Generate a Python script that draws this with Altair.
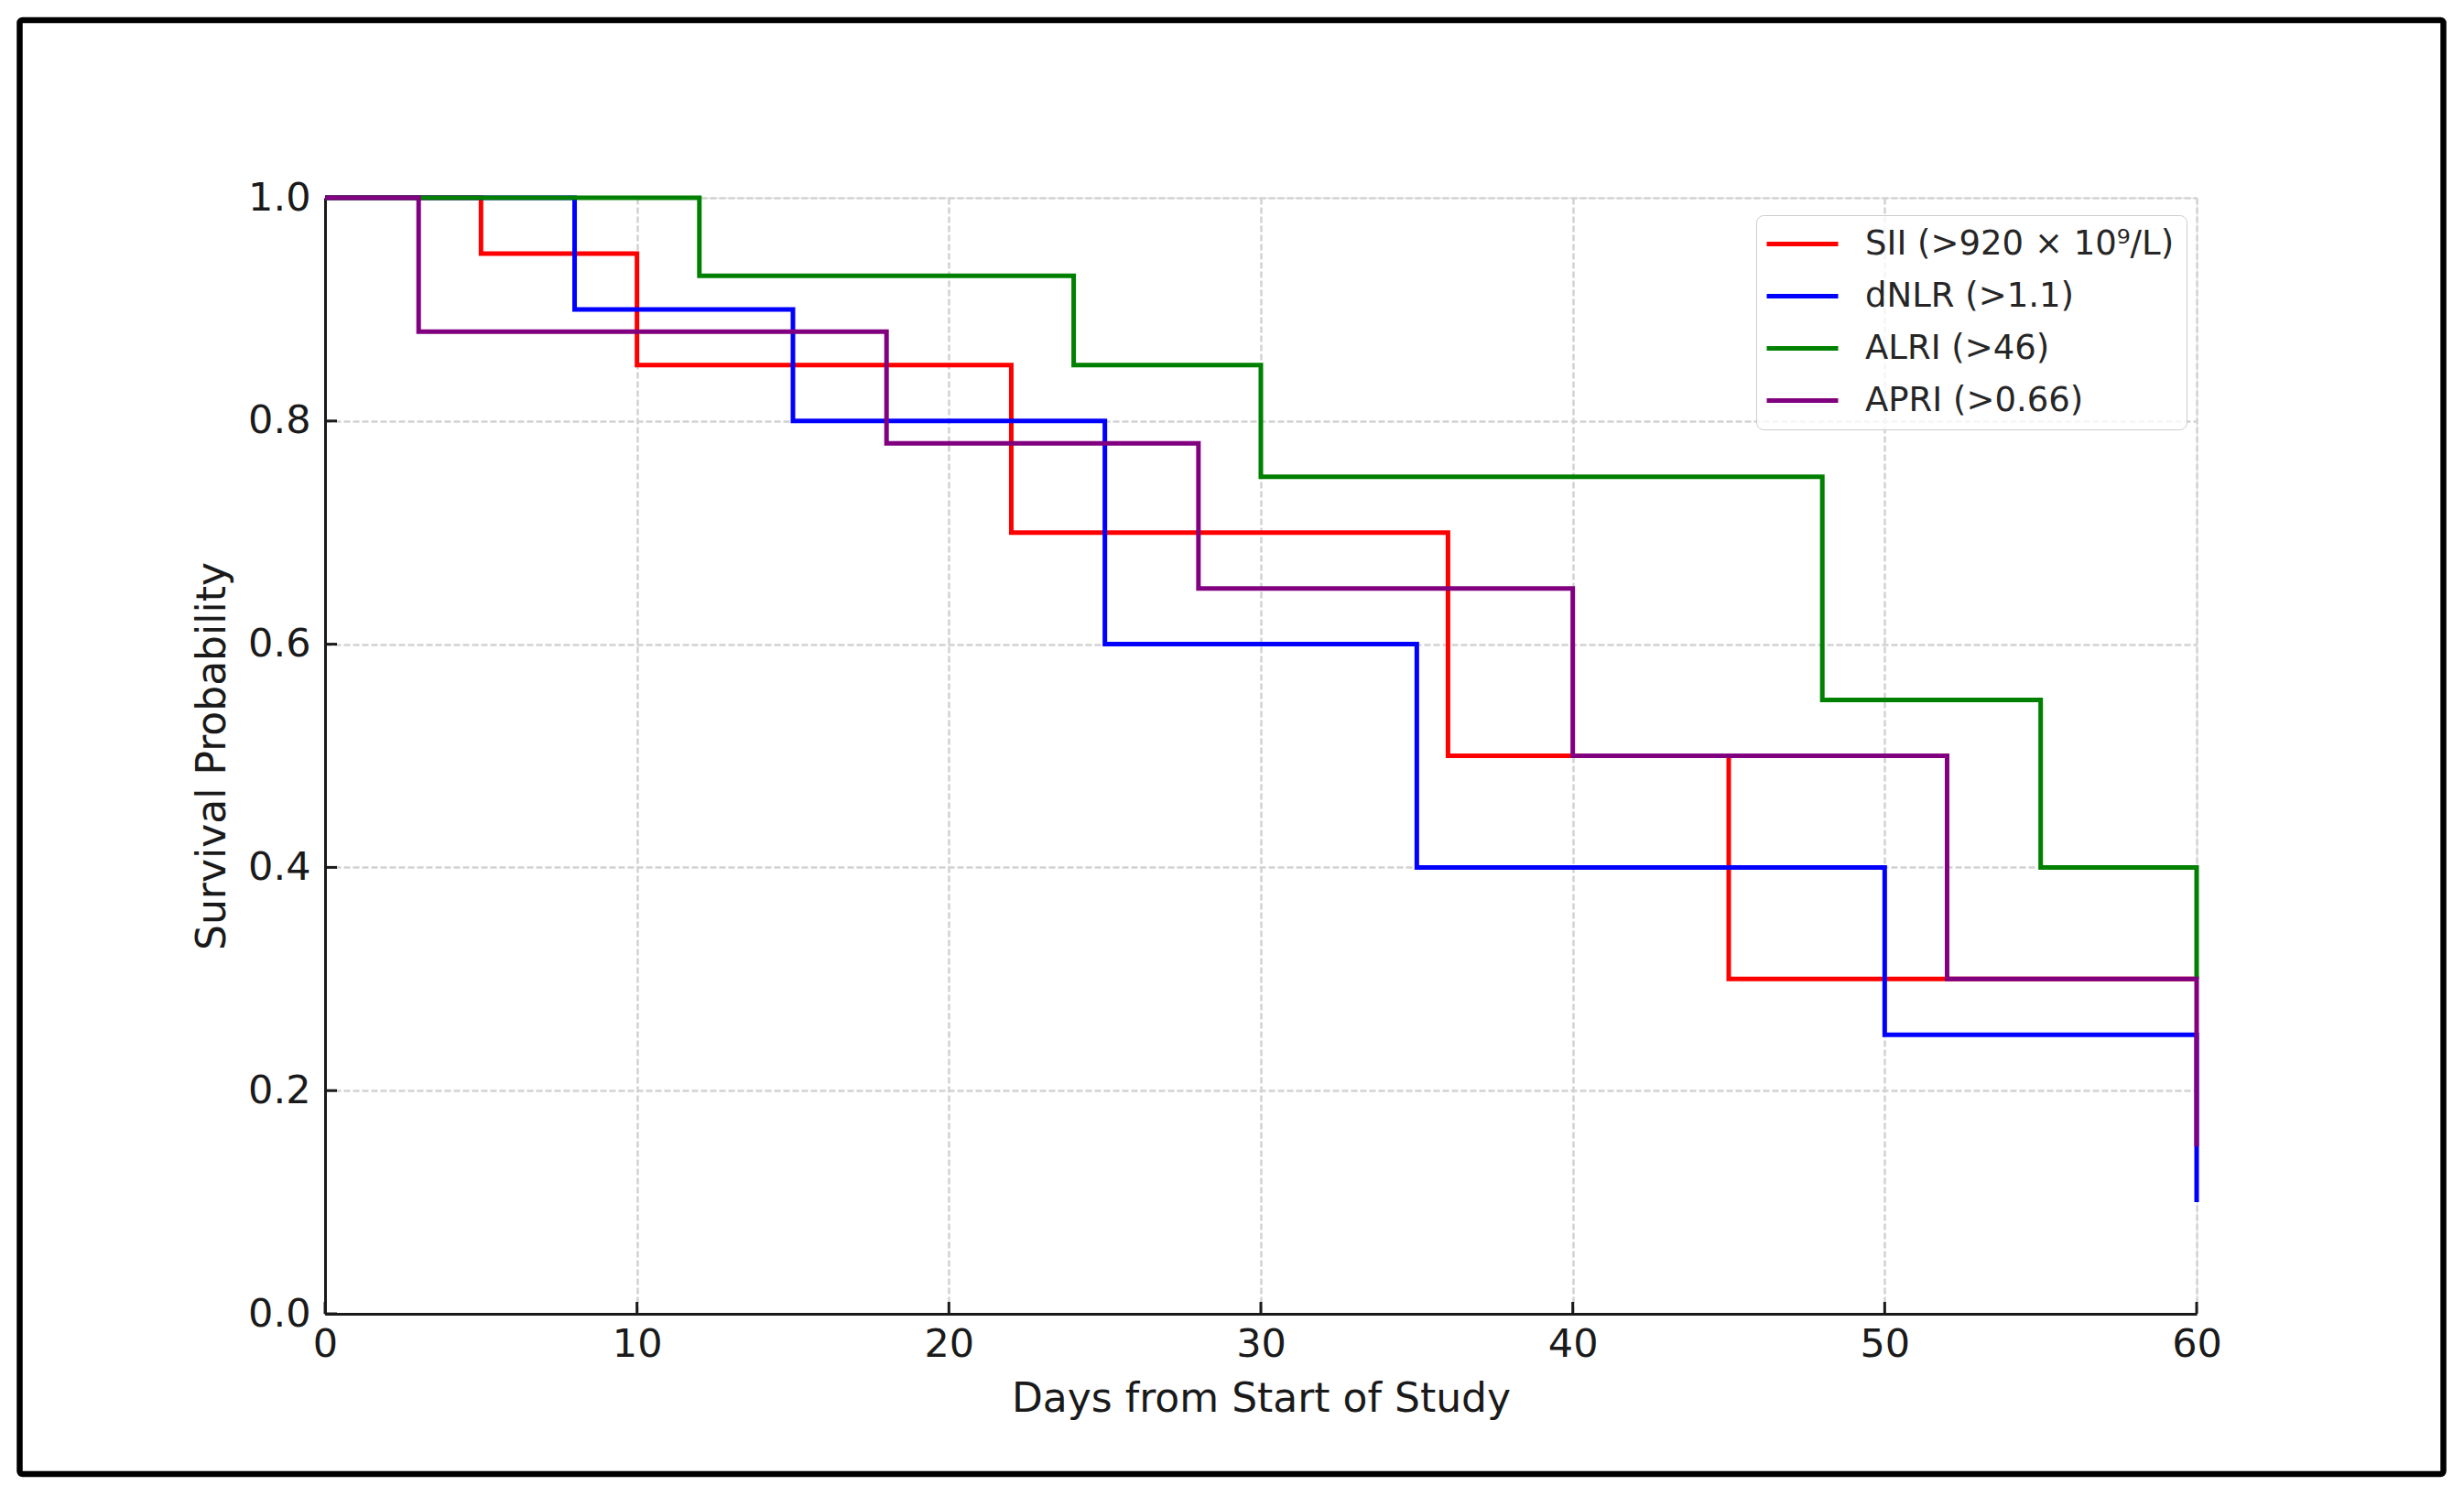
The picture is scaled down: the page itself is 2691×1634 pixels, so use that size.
import altair as alt
import pandas as pd

# ---- data ----
series_names = ["SII (>920 × 10⁹/L)", "dNLR (>1.1)", "ALRI (>46)", "APRI (>0.66)"]
series_colors = ["#ff0000", "#0000ff", "#008000", "#800080"]

sii_days = [0, 5, 10, 22, 36, 45, 60]
sii_surv = [1.00, 0.95, 0.85, 0.70, 0.50, 0.30, 0.30]

dnlr_days = [0, 8, 15, 25, 35, 50, 60]
dnlr_surv = [1.00, 0.90, 0.80, 0.60, 0.40, 0.25, 0.10]

alri_days = [0, 12, 24, 30, 48, 55, 60]
alri_surv = [1.00, 0.93, 0.85, 0.75, 0.55, 0.40, 0.30]

apri_days = [0, 3, 18, 28, 40, 52, 60]
apri_surv = [1.00, 0.88, 0.78, 0.65, 0.50, 0.30, 0.15]

x_ticks = [0, 10, 20, 30, 40, 50, 60]
y_ticks = [0.0, 0.2, 0.4, 0.6, 0.8, 1.0]

x_title = "Days from Start of Study"
y_title = "Survival Probability"

# ---- layout ----
W, H = 2044, 1219
FONT = "DejaVu Sans"
INK = "#1a1a1a"
GRID = dict(grid=True, gridColor="#d2d2d2", gridDash=[7, 3], gridWidth=2.5)

X = alt.X(
    "day:Q",
    scale=alt.Scale(domain=[0, 60], nice=False, zero=False),
    axis=alt.Axis(
        values=x_ticks, format="d", title=x_title,
        titleFont=FONT, titleFontSize=44, titleFontWeight="normal", titleColor=INK,
        titleY=106, titleBaseline="alphabetic",
        labelFont=FONT, labelFontSize=43, labelColor=INK, labelPadding=12,
        labelFlush=False, labelOverlap=False,
        ticks=False, domainColor=INK, domainWidth=3, **GRID,
    ),
)
Y = alt.Y(
    "surv:Q",
    scale=alt.Scale(domain=[0, 1], nice=False, zero=False),
    axis=alt.Axis(
        values=y_ticks, format=".1f", title=y_title,
        titleFont=FONT, titleFontSize=44, titleFontWeight="normal", titleColor=INK,
        titleX=-110, titleBaseline="alphabetic",
        labelFont=FONT, labelFontSize=43, labelColor=INK, labelPadding=16,
        labelFlush=False, labelOverlap=False,
        ticks=False, domainColor=INK, domainWidth=3, **GRID,
    ),
)

color = alt.Color(
    "series:N",
    scale=alt.Scale(domain=series_names, range=series_colors),
    legend=alt.Legend(
        title=None, orient="none", legendX=1563, legendY=19,
        symbolType="M-2.516,0H2.516", symbolSize=961, symbolStrokeWidth=5,
        symbolOffset=19, labelOffset=50,
        labelFont=FONT, labelFontSize=37, labelColor="#262626", labelLimit=0,
        padding=13, rowPadding=19,
        fillColor="rgba(255,255,255,0.8)", strokeColor="#cccccc", cornerRadius=8,
    ),
)

frame = alt.Chart(alt.Data(values=[{"f": 1}])).mark_rect(
    filled=False, stroke="black", strokeWidth=6.5, cornerRadius=3
).encode(
    x=alt.value(-333.5), x2=alt.value(2313.5), y=alt.value(-194), y2=alt.value(1394)
)

xt = alt.Chart(pd.DataFrame({"day": x_ticks})).mark_rule(color=INK, strokeWidth=3).encode(
    x=X, y=alt.value(H), y2=alt.value(H - 13)
)
yt = alt.Chart(pd.DataFrame({"surv": y_ticks})).mark_rule(color=INK, strokeWidth=3).encode(
    y=Y, x=alt.value(0), x2=alt.value(13)
)

all_days = [sii_days, dnlr_days, alri_days, apri_days]
all_surv = [sii_surv, dnlr_surv, alri_surv, apri_surv]

lines = []
for name, d, s in zip(series_names, all_days, all_surv):
    df = pd.DataFrame({"day": d, "surv": s, "series": name})
    lines.append(
        alt.Chart(df).mark_line(interpolate="step-after", strokeWidth=5).encode(
            x=X, y=Y, color=color
        )
    )

chart = alt.layer(frame, xt, yt, *lines).properties(
    width=W, height=H,
    autosize=alt.AutoSizeParams(type="none"),
    padding={"left": 347, "top": 208, "right": 284, "bottom": 183},
    background="white",
).configure_view(strokeWidth=0).configure(font=FONT)

chart.save("out.html", embed_options={"renderer": "svg", "actions": False})
